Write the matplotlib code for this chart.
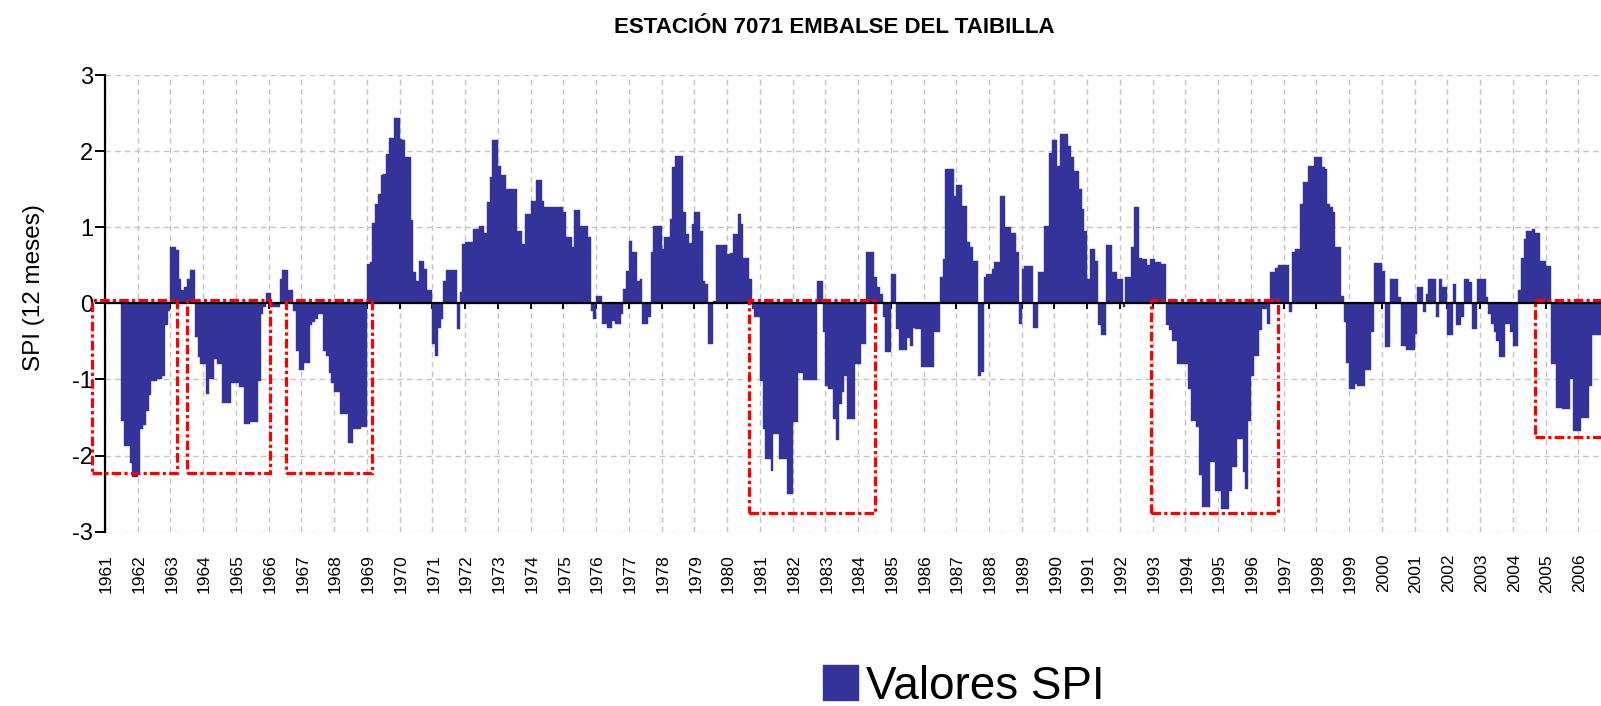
import numpy as np
import matplotlib.pyplot as plt
from matplotlib.patches import Rectangle

plt.rcParams['font.family'] = ['Liberation Sans', 'DejaVu Sans']
plt.rcParams['axes.unicode_minus'] = False

title = "ESTACIÓN 7071 EMBALSE DEL TAIBILLA"
ylabel = "SPI (12 meses)"
legend_label = "Valores SPI"
years = list(range(1961, 2007))

# SPI 12 meses, valores mensuales (enero..diciembre)
spi = [
    None, None, None, None, None, None, -1.55, -1.87, -1.87, -2.1, -2.28, -2.28,  # 1961
    -2.25, -1.65, -1.6, -1.41, -1.2, -1.02, -1.02, -1.0, -0.99, -0.95, -0.28, -0.1,  # 1962
    0.74, 0.74, 0.7, 0.32, 0.17, 0.22, 0.32, 0.44, 0.44, -0.44, -0.71, -0.8,  # 1963
    -0.8, -1.19, -1.0, -1.0, -0.73, -0.8, -0.8, -1.31, -1.31, -1.31, -1.04, -1.04,  # 1964
    -1.04, -1.1, -1.1, -1.59, -1.58, -1.56, -1.56, -1.56, -1.02, -0.14, -0.05, 0.13,  # 1965
    0.13, -0.05, -0.05, -0.05, 0.32, 0.44, 0.44, 0.17, 0.17, -0.1, -0.62, -0.88,  # 1966
    -0.88, -0.78, -0.78, -0.29, -0.25, -0.2, -0.14, -0.14, -0.62, -0.69, -0.91, -1.04,  # 1967
    -1.17, -1.17, -1.45, -1.45, -1.45, -1.83, -1.83, -1.65, -1.65, -1.65, -1.63, -1.63,  # 1968
    0.52, 0.54, 1.05, 1.3, 1.44, 1.68, 1.7, 1.96, 2.17, 2.17, 2.44, 2.44,  # 1969
    2.16, 2.14, 1.92, 1.92, 1.09, 0.41, 0.3, 0.56, 0.56, 0.45, 0.17, 0.17,  # 1970
    -0.53, -0.69, -0.32, -0.2, 0.3, 0.44, 0.44, 0.44, 0.44, -0.34, 0.15, 0.78,  # 1971
    0.8, 0.8, 0.8, 0.98, 0.98, 1.02, 1.02, 0.93, 1.33, 1.66, 2.14, 2.14,  # 1972
    1.81, 1.68, 1.68, 1.5, 1.5, 1.5, 1.5, 0.95, 0.95, 0.78, 1.17, 1.17,  # 1973
    1.35, 1.35, 1.62, 1.62, 1.35, 1.26, 1.26, 1.26, 1.26, 1.26, 1.26, 1.26,  # 1974
    1.2, 0.87, 0.87, 0.74, 1.23, 1.23, 1.02, 1.02, 1.02, 0.87, -0.1, -0.2,  # 1975
    0.1, 0.1, -0.27, -0.27, -0.32, -0.32, -0.23, -0.27, -0.27, -0.14, 0.19, 0.43,  # 1976
    0.82, 0.68, 0.68, 0.3, 0.32, -0.27, -0.27, -0.18, 0.68, 1.02, 1.02, 1.02,  # 1977
    0.71, 0.87, 0.87, 1.11, 1.79, 1.93, 1.93, 1.93, 1.2, 0.91, 0.79, 1.04,  # 1978
    1.2, 1.2, 0.95, 0.3, 0.25, -0.53, -0.53, 0.03, 0.77, 0.77, 0.77, 0.77,  # 1979
    0.65, 0.66, 0.91, 0.91, 1.17, 1.04, 0.6, 0.6, 0.32, -0.07, -0.18, -0.18,  # 1980
    -1.02, -1.65, -2.05, -2.05, -2.2, -1.72, -1.72, -2.05, -2.05, -2.05, -2.5, -2.5,  # 1981
    -1.56, -1.56, -0.91, -0.91, -1.01, -1.01, -1.01, -1.01, -1.01, 0.29, 0.29, -0.38,  # 1982
    -1.08, -1.13, -1.13, -1.52, -1.8, -1.32, -1.17, -0.95, -1.52, -1.52, -1.52, -0.8,  # 1983
    -0.8, -0.53, -0.53, 0.68, 0.68, 0.68, 0.34, 0.21, 0.12, -0.18, -0.64, -0.64,  # 1984
    0.38, 0.38, -0.34, -0.61, -0.61, -0.61, -0.45, -0.56, -0.32, -0.34, -0.34, -0.84,  # 1985
    -0.84, -0.84, -0.84, -0.84, -0.38, -0.38, 0.34, 0.58, 1.77, 1.77, 1.77, 1.41,  # 1986
    1.56, 1.56, 1.28, 1.28, 0.8, 0.74, 0.56, 0.56, -0.95, -0.9, 0.34, 0.39,  # 1987
    0.39, 0.45, 0.54, 0.54, 1.41, 1.41, 1.0, 1.0, 0.93, 0.93, 0.67, -0.27,  # 1988
    0.45, 0.49, 0.49, 0.49, -0.32, -0.32, 0.41, 0.41, 1.02, 1.02, 1.98, 2.14,  # 1989
    2.14, 1.81, 2.23, 2.23, 2.23, 2.07, 1.92, 1.74, 1.74, 1.5, 1.24, 0.95,  # 1990
    0.32, 0.71, 0.71, 0.56, -0.29, -0.42, -0.42, 0.77, 0.77, 0.41, 0.41, 0.32,  # 1991
    0.32, -0.05, 0.34, 0.35, 0.74, 1.26, 1.26, 0.6, 0.58, 0.58, 0.51, 0.58,  # 1992
    0.58, 0.54, 0.54, 0.52, 0.52, -0.29, -0.35, -0.49, -0.49, -0.8, -0.8, -0.8,  # 1993
    -0.8, -1.13, -1.54, -1.54, -1.63, -2.26, -2.68, -2.68, -2.68, -2.09, -2.09, -2.46,  # 1994
    -2.46, -2.7, -2.7, -2.7, -2.46, -2.15, -2.15, -1.78, -1.78, -2.22, -2.44, -1.54,  # 1995
    -0.95, -0.69, -0.69, -0.35, -0.07, -0.07, -0.27, 0.41, 0.41, 0.46, 0.51, 0.51,  # 1996
    0.51, 0.51, -0.12, 0.68, 0.71, 0.71, 1.3, 1.6, 1.6, 1.8, 1.8, 1.92,  # 1997
    1.92, 1.92, 1.79, 1.77, 1.31, 1.26, 1.2, 0.74, 0.74, 0.1, -0.25, -0.78,  # 1998
    -1.13, -1.13, -1.06, -1.08, -1.08, -1.08, -0.88, -0.88, -0.38, 0.53, 0.53, 0.53,  # 1999
    0.43, -0.58, -0.58, 0.32, 0.32, 0.32, 0.08, -0.56, -0.56, -0.61, -0.61, -0.61,  # 2000
    -0.4, 0.22, 0.22, -0.12, 0.12, 0.32, 0.32, 0.32, -0.18, 0.32, 0.21, 0.21,  # 2001
    -0.42, -0.42, 0.25, -0.29, -0.29, -0.18, 0.32, 0.32, 0.28, -0.34, -0.34, 0.32,  # 2002
    0.32, 0.32, 0.08, -0.14, -0.27, -0.38, -0.49, -0.71, -0.71, -0.27, -0.27, -0.38,  # 2003
    -0.56, -0.56, 0.17, 0.6, 0.85, 0.95, 0.95, 0.98, 0.92, 0.92, 0.56, 0.56,  # 2004
    0.49, 0.49, -0.8, -0.8, -1.37, -1.37, -1.39, -1.39, -1.39, -1.0, -1.68, -1.68,  # 2005
    -1.68, -1.5, -1.5, -1.5, -1.08, -0.42, -0.42, -0.42, -0.42,  # 2006
]

# recuadros de sequia: inicio y fin en anos desde ene-1961, y fondo (SPI)
drought_start = [-0.39, 2.5, 5.53, 19.66, 31.95, 43.67]
drought_end = [2.19, 5.03, 8.17, 23.52, 35.83, 46.5]
drought_bottom = [-2.23, -2.23, -2.23, -2.75, -2.75, -1.75]
drought_top = 0.05

bar_color = '#333399'
W, H = 1601, 706

values = np.array([np.nan if v is None else v for v in spi])
months = np.arange(len(values))

fig = plt.figure(figsize=(W / 100, H / 100), dpi=100)
ax = fig.add_axes([105 / W, (H - 531.7) / H, 1 - 105 / W, (531.7 - 75) / H])

bars = ax.bar(months, values, width=1.0, align='edge', color=bar_color,
              edgecolor=bar_color, linewidth=0.3, zorder=2)

ax.set_xlim(0, (W - 105) / (32.74 / 12))
ax.set_ylim(-3, 3)

year_ticks = [12 * (y - years[0]) for y in years]
ax.set_xticks(year_ticks)
ax.set_yticks(range(-3, 4))
ax.spines['bottom'].set_position(('data', 0))
ax.spines['bottom'].set_linewidth(1.6)
ax.spines['left'].set_linewidth(1.6)
ax.spines['top'].set_visible(False)
ax.spines['right'].set_visible(False)
ax.tick_params(axis='x', direction='out', length=4, width=1.4, labelbottom=False)
ax.tick_params(axis='y', direction='out', length=7, width=1.4, labelsize=17, pad=1.5)

ax.grid(True, color='#c4c4c4', linestyle=(0, (4, 3)), linewidth=1.0)
ax.set_axisbelow(True)

secax = ax.secondary_xaxis(0.0)
secax.set_xticks([t + 0.5 for t in year_ticks], labels=[str(y) for y in years], rotation=90)
secax.tick_params(length=0, pad=16, labelsize=12.5)
secax.spines['bottom'].set_visible(False)

ax.set_ylabel(ylabel, fontsize=17.5)
ax.yaxis.set_label_coords(-0.040, 0.535)

for s, e, b in zip(drought_start, drought_end, drought_bottom):
    ax.add_patch(Rectangle((s * 12, b), (e - s) * 12, drought_top - b, fill=False,
                           edgecolor='red', linewidth=2.3, linestyle=(0, (3, 1, 1, 1)),
                           clip_on=False, zorder=4))

fig.text(0.521, 0.961, title, ha='center', va='center', fontsize=16, fontweight='bold')

fig.legend([bars], [legend_label], loc='center', bbox_to_anchor=(0.602, 0.027),
           frameon=False, fontsize=33, handlelength=0.8, handleheight=0.8,
           handletextpad=0.15, borderpad=0)

fig.savefig('out.png', dpi=100)
